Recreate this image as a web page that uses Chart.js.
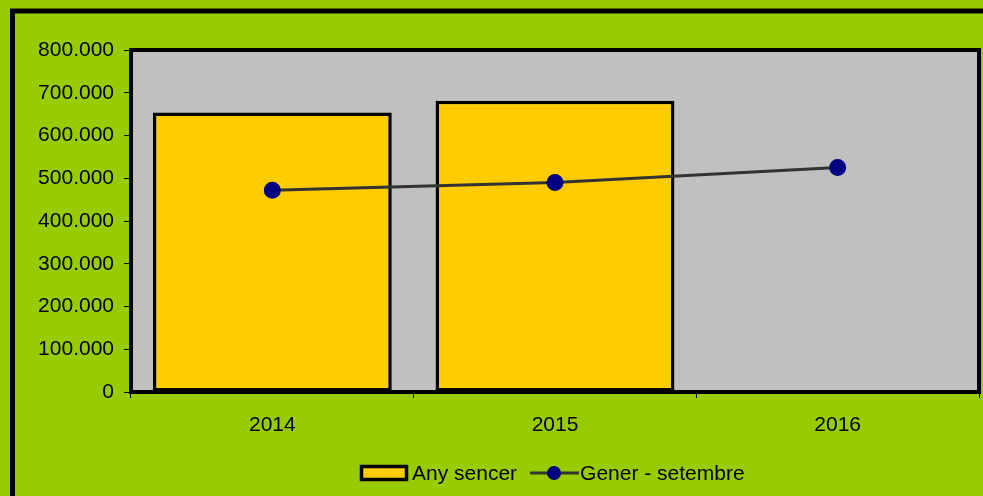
<!DOCTYPE html>
<html>
<head>
<meta charset="utf-8">
<script src="https://cdn.jsdelivr.net/npm/chart.js@4"></script>
<style>
  html, body { margin: 0; padding: 0; background: #99cc00; }
  #wrap { width: 983px; height: 496px; }
</style>
</head>
<body>
<div id="wrap"><canvas id="chart" width="983" height="496"></canvas></div>
<script>
// values
const years = ["2014", "2015", "2016"];
const fullYear = [654000, 681000, null];      // Any sencer
const janToSep = [472000, 490000, 525000];    // Gener - setembre
const seriesNames = ["Any sencer", "Gener - setembre"];

const FONT = "'Liberation Sans', Arial, sans-serif";
const FSIZE = 21;

function fmt(v) {
  // 800000 -> 800.000
  return String(v).replace(/\B(?=(\d{3})+(?!\d))/g, ".");
}

// green background, outer frame, grey plot area
const framePlugin = {
  id: "frame",
  beforeDraw(chart) {
    const ctx = chart.ctx;
    const a = chart.chartArea;
    ctx.save();
    ctx.fillStyle = "#99cc00";
    ctx.fillRect(0, 0, chart.width, chart.height);
    ctx.strokeStyle = "#000";
    ctx.lineWidth = 5;
    ctx.strokeRect(12.5, 11, chart.width + 40, chart.height + 40);
    ctx.fillStyle = "#c0c0c0";
    ctx.fillRect(a.left, a.top, a.right - a.left, a.bottom - a.top);
    ctx.restore();
  },
  afterDatasetsDraw(chart) {
    const ctx = chart.ctx;
    const a = chart.chartArea;
    ctx.save();
    ctx.strokeStyle = "#000";
    ctx.lineWidth = 4;
    ctx.strokeRect(a.left, a.top, a.right - a.left, a.bottom - a.top);
    ctx.restore();
  }
};

// legend at the bottom: box for the bars, line+dot for the line
const legendPlugin = {
  id: "bottomLegend",
  afterDraw(chart) {
    const ctx = chart.ctx;
    const bars = chart.data.datasets.find(d => d.type !== "line");
    const line = chart.data.datasets.find(d => d.type === "line");
    ctx.save();
    ctx.font = FSIZE + "px " + FONT;
    ctx.textBaseline = "middle";
    let x = 360;
    const y = 473;
    // bar item
    ctx.fillStyle = bars.backgroundColor;
    ctx.fillRect(x + 1.5, y - 6.5, 45, 13);
    ctx.strokeStyle = "#000";
    ctx.lineWidth = 3.5;
    ctx.strokeRect(x + 1.5, y - 6.5, 45, 13);
    x += 52;
    ctx.fillStyle = "#000";
    ctx.fillText(bars.label, x, y + 1);
    x += ctx.measureText(bars.label).width + 13;
    // line item
    ctx.strokeStyle = line.borderColor;
    ctx.lineWidth = 3;
    ctx.beginPath();
    ctx.moveTo(x, y);
    ctx.lineTo(x + 49, y);
    ctx.stroke();
    ctx.fillStyle = line.pointBackgroundColor;
    ctx.beginPath();
    ctx.arc(x + 24, y, 7, 0, Math.PI * 2);
    ctx.fill();
    x += 50;
    ctx.fillStyle = "#000";
    ctx.fillText(line.label, x, y + 1);
    ctx.restore();
  }
};

new Chart(document.getElementById("chart"), {
  type: "bar",
  data: {
    labels: years,
    datasets: [
      {
        type: "line",
        label: seriesNames[1],
        data: janToSep,
        borderColor: "#333333",
        borderWidth: 3,
        tension: 0,
        pointRadius: 7,
        pointHoverRadius: 7,
        pointBackgroundColor: "#000080",
        pointBorderColor: "#000080",
        order: 0
      },
      {
        label: seriesNames[0],
        data: fullYear,
        backgroundColor: "#ffcc00",
        borderColor: "#000",
        borderWidth: 3.5,
        borderSkipped: false,
        barPercentage: 0.845,
        categoryPercentage: 1,
        order: 1
      }
    ]
  },
  options: {
    responsive: false,
    animation: false,
    layout: { autoPadding: false, padding: { top: 50, right: 4, left: 0, bottom: 0 } },
    plugins: {
      legend: { display: false },
      tooltip: { enabled: false }
    },
    scales: {
      x: {
        offset: true,
        afterFit(s) {
          s.height = 104;
          s.paddingLeft = 0;
          s.paddingRight = 0;
        },
        grid: {
          offset: true,
          drawOnChartArea: false,
          drawTicks: true,
          tickLength: 6,
          tickColor: "#000",
          tickWidth: 1
        },
        border: { display: false },
        ticks: {
          color: "#000",
          padding: 15,
          maxRotation: 0,
          font: { family: FONT, size: FSIZE }
        }
      },
      y: {
        min: 0,
        max: 800000,
        afterFit(s) { s.width = 131; },
        grid: {
          drawOnChartArea: false,
          tickLength: 7,
          tickColor: "#000",
          tickWidth: 1
        },
        border: { display: false },
        ticks: {
          stepSize: 100000,
          color: "#000",
          padding: 10,
          font: { family: FONT, size: FSIZE },
          callback: (v) => fmt(v)
        }
      }
    }
  },
  plugins: [framePlugin, legendPlugin]
});
</script>
</body>
</html>
